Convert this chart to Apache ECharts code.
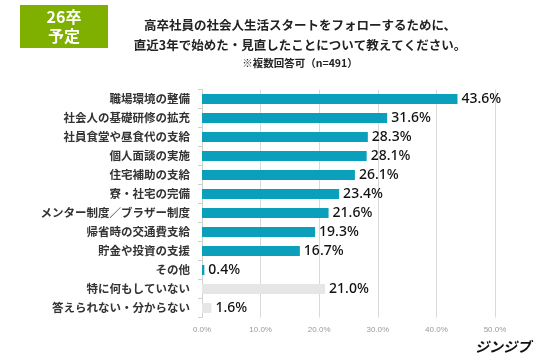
<!DOCTYPE html>
<html><head><meta charset="utf-8">
<script src="https://cdn.jsdelivr.net/npm/echarts@6/dist/echarts.min.js"></script>
<style>html,body{margin:0;padding:0;background:#fff}#c{width:536px;height:360px}</style>
</head><body><div id="c"></div>
<script>
const categories = ['職場環境の整備','社会人の基礎研修の拡充','社員食堂や昼食代の支給','個人面談の実施','住宅補助の支給','寮・社宅の完備','メンター制度／ブラザー制度','帰省時の交通費支給','貯金や投資の支援','その他','特に何もしていない','答えられない・分からない'];
const values = [43.6,31.6,28.3,28.1,26.1,23.4,21.6,19.3,16.7,0.4,21.0,1.6];
const greyItems = ['特に何もしていない','答えられない・分からない'];
const titleLines = ['高卒社員の社会人生活スタートをフォローするために、','直近3年で始めた・見直したことについて教えてください。'];
const subtitle = '※複数回答可（n=491）';
const badge = ['26卒','予定'];
const brand = 'ジンジブ';

const FONT = '"Noto Sans CJK JP", "Noto Sans", sans-serif';
const chart = echarts.init(document.getElementById('c'));
chart.setOption({
  animation: false,
  textStyle: {fontFamily: FONT},
  graphic: [
    {type:'rect', shape:{x:20,y:5,width:88,height:43}, style:{fill:'#7fb000'}},
    {type:'text', style:{text:badge.join('\n'), x:64, y:26.5, align:'center', verticalAlign:'middle', fill:'#fff', font:'bold 16px '+FONT, lineHeight:19}},
    {type:'text', style:{text:titleLines.join('\n'), x:300, y:35, align:'center', verticalAlign:'middle', fill:'#222', font:'bold 12.5px '+FONT, lineHeight:20}},
    {type:'text', style:{text:subtitle, x:300, y:63, align:'center', verticalAlign:'middle', fill:'#222', font:'bold 10.5px '+FONT}},
    {type:'text', style:{text:brand, x:503, y:347, align:'center', verticalAlign:'middle', fill:'#111', font:'italic bold 14px '+FONT}}
  ],
  grid: {left:202, right:41, top:89.5, bottom:42.5, containLabel:false},
  xAxis: {type:'value', min:0, max:50, interval:10, position:'bottom',
    axisLabel:{formatter: v => v.toFixed(1)+'%', color:'#999', fontSize:8, margin:8, fontFamily:'"Liberation Sans", sans-serif'},
    axisLine:{show:false}, axisTick:{show:false},
    splitLine:{lineStyle:{color:'#d9d9d9', width:1}}},
  yAxis: {type:'category', data:categories, inverse:true,
    axisLine:{show:true, lineStyle:{color:'#d0d0d0'}},
    axisTick:{show:true, length:4, lineStyle:{color:'#d0d0d0'}},
    axisLabel:{color:'#333', fontSize:11.5, fontWeight:'bold', margin:12}},
  series: [{type:'bar', barWidth:10,
    data: values.map((v,i)=>({value:v, itemStyle:{color: greyItems.includes(categories[i]) ? '#e6e6e6' : '#0aa0bc'}})),
    label:{show:true, position:'right', distance:4, formatter: p => p.value.toFixed(1)+'%', color:'#111', fontSize:14, fontWeight:500, fontFamily:'"Noto Sans", sans-serif'}
  }]
});
</script></body></html>
